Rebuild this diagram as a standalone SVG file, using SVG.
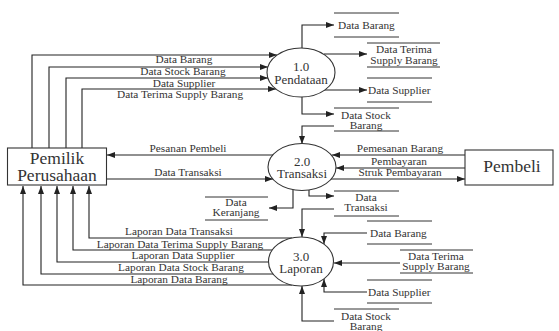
<svg xmlns="http://www.w3.org/2000/svg" width="559" height="331" viewBox="0 0 559 331">
<style>
text{font-family:'Liberation Serif','Times New Roman','DejaVu Serif',serif}
.ln{fill:none;stroke:#222;stroke-width:1.1}
.st{fill:none;stroke:#333;stroke-width:1}
.pr{fill:#fff;stroke:#333;stroke-width:1.1}
.lb{font-size:11.3px;fill:#333}
.pt{font-size:13px;fill:#333;text-anchor:middle}
.et{font-size:17.5px;fill:#333;text-anchor:middle}
.m{text-anchor:middle}
</style>
<defs>
<marker id="a" markerWidth="8" markerHeight="6" refX="8" refY="3" orient="auto" markerUnits="userSpaceOnUse">
<path d="M0,0 L8,3 L0,6 Z" fill="#222"/>
</marker>
</defs>
<rect width="559" height="331" fill="#fff"/>

<g id="connectors">
<path class="ln" d="M32,148 V55 H277" marker-end="url(#a)"/>
<path class="ln" d="M49,148 V67 H268" marker-end="url(#a)"/>
<path class="ln" d="M66,148 V78 H268" marker-end="url(#a)"/>
<path class="ln" d="M82,148 V89 H276" marker-end="url(#a)"/>
<text class="lb m" x="184" y="63">Data Barang</text>
<text class="lb m" x="183" y="75">Data Stock Barang</text>
<text class="lb m" x="184" y="87">Data Supplier</text>
<text class="lb m" x="180" y="98">Data Terima Supply Barang</text>

<path class="ln" d="M302,48 V25 H334" marker-end="url(#a)"/>
<path class="ln" d="M324,54 H367" marker-end="url(#a)"/>
<path class="ln" d="M324,90 H367" marker-end="url(#a)"/>
<path class="ln" d="M302,97 V114 H334" marker-end="url(#a)"/>
<path class="ln" d="M334,126 H302 V144" marker-end="url(#a)"/>

<path class="ln" d="M273,155 H107" marker-end="url(#a)"/>
<path class="ln" d="M107,179 H273" marker-end="url(#a)"/>
<text class="lb m" x="188" y="152">Pesanan Pembeli</text>
<text class="lb m" x="188" y="176">Data Transaksi</text>
<path class="ln" d="M465,155 H332" marker-end="url(#a)"/>
<path class="ln" d="M465,168 H336" marker-end="url(#a)"/>
<path class="ln" d="M331,179 H465" marker-end="url(#a)"/>
<text class="lb m" x="400" y="152">Pemesanan Barang</text>
<text class="lb m" x="399" y="165">Pembayaran</text>
<text class="lb m" x="400" y="176">Struk Pembayaran</text>
<path class="ln" d="M309,190 V196 H334" marker-end="url(#a)"/>
<path class="ln" d="M293,190 V208 H269" marker-end="url(#a)"/>
<path class="ln" d="M334,209 H302 V237" marker-end="url(#a)"/>

<path class="ln" d="M367,233 H324 V244" marker-end="url(#a)"/>
<path class="ln" d="M400,263 H334" marker-end="url(#a)"/>
<path class="ln" d="M367,292 H324 V279" marker-end="url(#a)"/>
<path class="ln" d="M334,321 H302 V286" marker-end="url(#a)"/>

<path class="ln" d="M292,238 H89 V186" marker-end="url(#a)"/>
<path class="ln" d="M273,250 H73 V186" marker-end="url(#a)"/>
<path class="ln" d="M268.5,262 H57 V186" marker-end="url(#a)"/>
<path class="ln" d="M273,274 H41 V186" marker-end="url(#a)"/>
<path class="ln" d="M292,285 H23 V186" marker-end="url(#a)"/>
<text class="lb m" x="179" y="235">Laporan Data Transaksi</text>
<text class="lb m" x="180" y="248">Laporan Data Terima Supply Barang</text>
<text class="lb m" x="183" y="259">Laporan Data Supplier</text>
<text class="lb m" x="181" y="271">Laporan Data Stock Barang</text>
<text class="lb m" x="179" y="283">Laporan Data Barang</text>
</g>

<g id="pemilik">
<rect class="pr" x="7.5" y="148" width="99" height="37"/>
<text class="et" x="57" y="164"><tspan x="57">Pemilik</tspan><tspan x="57" dy="16.5">Perusahaan</tspan></text>
</g>
<g id="pembeli">
<rect class="pr" x="465" y="150" width="88" height="35"/>
<text class="et" x="512" y="172">Pembeli</text>
</g>

<g id="p1">
<ellipse class="pr" cx="301" cy="72.5" rx="34" ry="24.5"/>
<text class="pt" x="301" y="71"><tspan x="301">1.0</tspan><tspan x="301" dy="12.5">Pendataan</tspan></text>
</g>
<g id="p2">
<ellipse class="pr" cx="302" cy="167" rx="34" ry="23.5"/>
<text class="pt" x="302" y="165.5"><tspan x="302">2.0</tspan><tspan x="302" dy="12.5">Transaksi</tspan></text>
</g>
<g id="p3">
<ellipse class="pr" cx="301" cy="261.5" rx="32.5" ry="24.5"/>
<text class="pt" x="301" y="260.5"><tspan x="301">3.0</tspan><tspan x="301" dy="12.5">Laporan</tspan></text>
</g>

<g id="s-barang1">
<path class="st" d="M334,13 H399 M334,37 H399"/>
<text class="lb" x="338" y="29">Data Barang</text>
</g>
<g id="s-terima1">
<path class="st" d="M367,43 H440 M367,67 H440"/>
<text class="lb m" x="404" y="53"><tspan x="404">Data Terima</tspan><tspan x="404" dy="11">Supply Barang</tspan></text>
</g>
<g id="s-supplier1">
<path class="st" d="M367,78 H432 M367,102 H432"/>
<text class="lb" x="368" y="94">Data Supplier</text>
</g>
<g id="s-stock1">
<path class="st" d="M334,108 H399 M334,131 H399"/>
<text class="lb m" x="366" y="119"><tspan x="366">Data Stock</tspan><tspan x="366" dy="10">Barang</tspan></text>
</g>
<g id="s-transaksi">
<path class="st" d="M334,191 H399 M334,216 H399"/>
<text class="lb m" x="366" y="201"><tspan x="366">Data</tspan><tspan x="366" dy="10">Transaksi</tspan></text>
</g>
<g id="s-keranjang">
<path class="st" d="M205,197 H268 M205,220 H268"/>
<text class="lb m" x="236" y="206"><tspan x="236">Data</tspan><tspan x="236" dy="10">Keranjang</tspan></text>
</g>
<g id="s-barang2">
<path class="st" d="M367,221 H432 M367,244 H432"/>
<text class="lb" x="370" y="237">Data Barang</text>
</g>
<g id="s-terima2">
<path class="st" d="M400,250 H473 M400,273 H473"/>
<text class="lb m" x="436" y="260"><tspan x="436">Data Terima</tspan><tspan x="436" dy="10">Supply Barang</tspan></text>
</g>
<g id="s-supplier2">
<path class="st" d="M367,280 H432 M367,303 H432"/>
<text class="lb" x="368" y="296">Data Supplier</text>
</g>
<g id="s-stock2">
<path class="st" d="M334,309 H399 M334,333 H399"/>
<text class="lb m" x="366" y="320"><tspan x="366">Data Stock</tspan><tspan x="366" dy="10">Barang</tspan></text>
</g>
</svg>
